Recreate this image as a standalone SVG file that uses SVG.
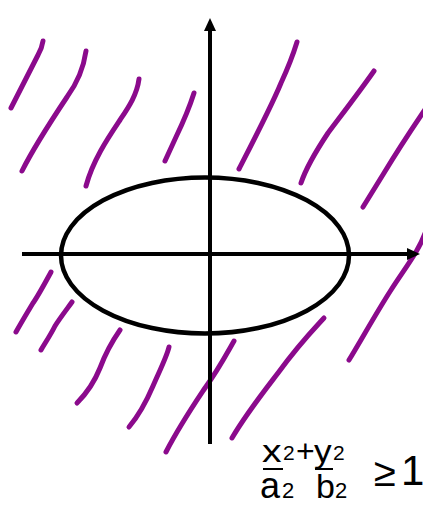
<svg xmlns="http://www.w3.org/2000/svg" width="423" height="506" viewBox="0 0 423 506">
<style>
.ax{stroke:#000;stroke-width:4;fill:none}
.el{stroke:#000;stroke-width:4.5;fill:none}
.h{stroke:#8b0a8c;stroke-width:5;fill:none;stroke-linecap:round;stroke-linejoin:round}
.t{font-family:"Liberation Sans",Arial,sans-serif;fill:#000}
.ul{stroke:#000;stroke-width:2}
</style>
<defs>
<marker id="ah" markerUnits="userSpaceOnUse" markerWidth="14" markerHeight="14" refX="1" refY="6" orient="auto">
<path d="M0,0 L13,6 L0,12 Z" fill="#000"/>
</marker>
</defs>
<rect width="423" height="506" fill="#fff"/>
<g id="hatching">
<path class="h" d="M43,41 Q42,48 38,55 L11,108"/>
<path class="h" d="M86,51 C84,65 78,82 67,97 C55,115 35,145 22,171"/>
<path class="h" d="M139,79 C137,95 128,108 120,120 C108,138 93,160 86,186"/>
<path class="h" d="M194,93 Q188,112 176,137 L165,161"/>
<path class="h" d="M297,42 C293,55 287,70 281,83 C272,105 258,132 239,169"/>
<path class="h" d="M374,71 C360,91 340,117 328,133 C318,148 306,168 301,183"/>
<path class="h" d="M426,108 C418,120 404,140 384,173 L363,207"/>
<path class="h" d="M427,228 C420,250 405,268 391,290 C378,310 360,342 349,360"/>
<path class="h" d="M51,272 C45,283 38,296 33,303 C27,313 21,323 16,332"/>
<path class="h" d="M72,302 C67,309 60,318 55,326 C50,336 45,343 41,350"/>
<path class="h" d="M120,330 C113,340 106,352 100,368 C94,383 86,394 77,403"/>
<path class="h" d="M169,347 C167,356 160,370 153,386 C147,400 140,414 129,427"/>
<path class="h" d="M234,341 C226,355 218,370 205,388 C195,403 180,425 166,452"/>
<path class="h" d="M324,318 C313,330 300,343 278,373 C265,390 246,414 232,438"/>
</g>
<g id="axes">
<line class="ax" x1="210" y1="444" x2="210" y2="30" marker-end="url(#ah)"/>
<line class="ax" x1="22" y1="254" x2="408" y2="254" marker-end="url(#ah)"/>
</g>
<g id="ellipse">
<ellipse class="el" cx="205" cy="255.5" rx="144" ry="78"/>
</g>
<g id="formula">
<text class="t" font-size="32" transform="translate(262,462) scale(1.22,1)">x</text>
<text class="t" x="283" y="460" font-size="21">2</text>
<text class="t" x="296" y="462" font-size="32">+</text>
<text class="t" font-size="32" transform="translate(314,462) scale(1.1,1)">y</text>
<text class="t" x="333" y="460" font-size="21">2</text>
<line class="ul" x1="263" y1="469" x2="283" y2="469"/>
<line class="ul" x1="315" y1="469" x2="333" y2="469"/>
<text class="t" x="260" y="498" font-size="36">a</text>
<text class="t" x="282" y="498" font-size="22">2</text>
<text class="t" x="316" y="498" font-size="34">b</text>
<text class="t" x="335" y="498" font-size="22">2</text>
<text class="t" x="374" y="486" font-size="40">≥</text>
<text class="t" x="401" y="485" font-size="42">1</text>
</g>
</svg>
